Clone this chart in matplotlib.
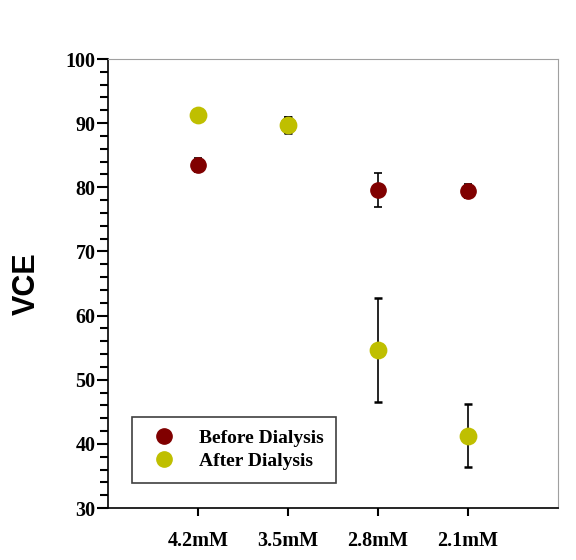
import numpy as np
import matplotlib.pyplot as plt
from matplotlib.ticker import MultipleLocator
from matplotlib.lines import Line2D

categories = ['4.2mM', '3.5mM', '2.8mM', '2.1mM']
before_vals = [83.5, 89.7, 79.6, 79.4]
before_err = [1.1, 1.3, 2.6, 1.1]
after_vals = [91.2, 89.7, 54.7, 41.3]
after_err = [0.3, 1.3, 8.1, 4.9]

before_color = '#800000'
after_color = '#bfbf00'

plt.rcParams['font.family'] = ['Liberation Serif', 'DejaVu Serif']

fig = plt.figure(figsize=(5.76, 5.6), dpi=100)
ax = fig.add_axes([108 / 576, 52 / 560, 450 / 576, 449 / 560])

x = np.arange(1, len(categories) + 1)
ax.errorbar(x, before_vals, yerr=before_err, fmt='o', color=before_color,
            ecolor='black', elinewidth=1.2, capsize=3, capthick=1.2,
            markersize=11, zorder=3)
# slightly thicker edge so the yellow fully covers the red where they overlap
ax.errorbar(x, after_vals, yerr=after_err, fmt='o', color=after_color,
            ecolor='black', elinewidth=1.2, capsize=3, capthick=1.2,
            markersize=11, markeredgewidth=1.8, zorder=4)

ax.set_xlim(0, 5)
ax.set_ylim(30, 100)
ax.set_xticks(x)
ax.set_xticklabels(categories, fontsize=14.5, fontweight='bold')
ax.yaxis.set_major_locator(MultipleLocator(10))
ax.yaxis.set_minor_locator(MultipleLocator(2))
for lab in ax.get_yticklabels():
    lab.set_fontsize(14.5)
    lab.set_fontweight('bold')

ax.tick_params(axis='y', which='major', length=8, width=1.5, pad=1)
ax.tick_params(axis='y', which='minor', length=5.8, width=1.5)
ax.tick_params(axis='x', which='major', length=5.8, width=1.5, pad=11)

ax.spines['left'].set_linewidth(1.2)
ax.spines['bottom'].set_linewidth(1.2)
ax.spines['top'].set_color('#a0a0a0')
ax.spines['right'].set_color('#a0a0a0')

ax.set_ylabel('VCE', fontsize=22, fontweight='bold', family='Liberation Sans')
ax.yaxis.set_label_coords(-0.147, 0.5)

handles = [
    Line2D([], [], marker='o', linestyle='none', color=before_color, markersize=11),
    Line2D([], [], marker='o', linestyle='none', color=after_color, markersize=11),
]
leg = ax.legend(handles, ['Before Dialysis', 'After Dialysis'],
                loc='lower left', bbox_to_anchor=(0.053, 0.056),
                borderaxespad=0, fancybox=False, framealpha=1,
                edgecolor='#404040', prop={'size': 14, 'weight': 'bold'},
                handletextpad=0.8, labelspacing=0.3, borderpad=0.65)
leg.get_frame().set_linewidth(1.2)

plt.savefig('out.png', dpi=100)
